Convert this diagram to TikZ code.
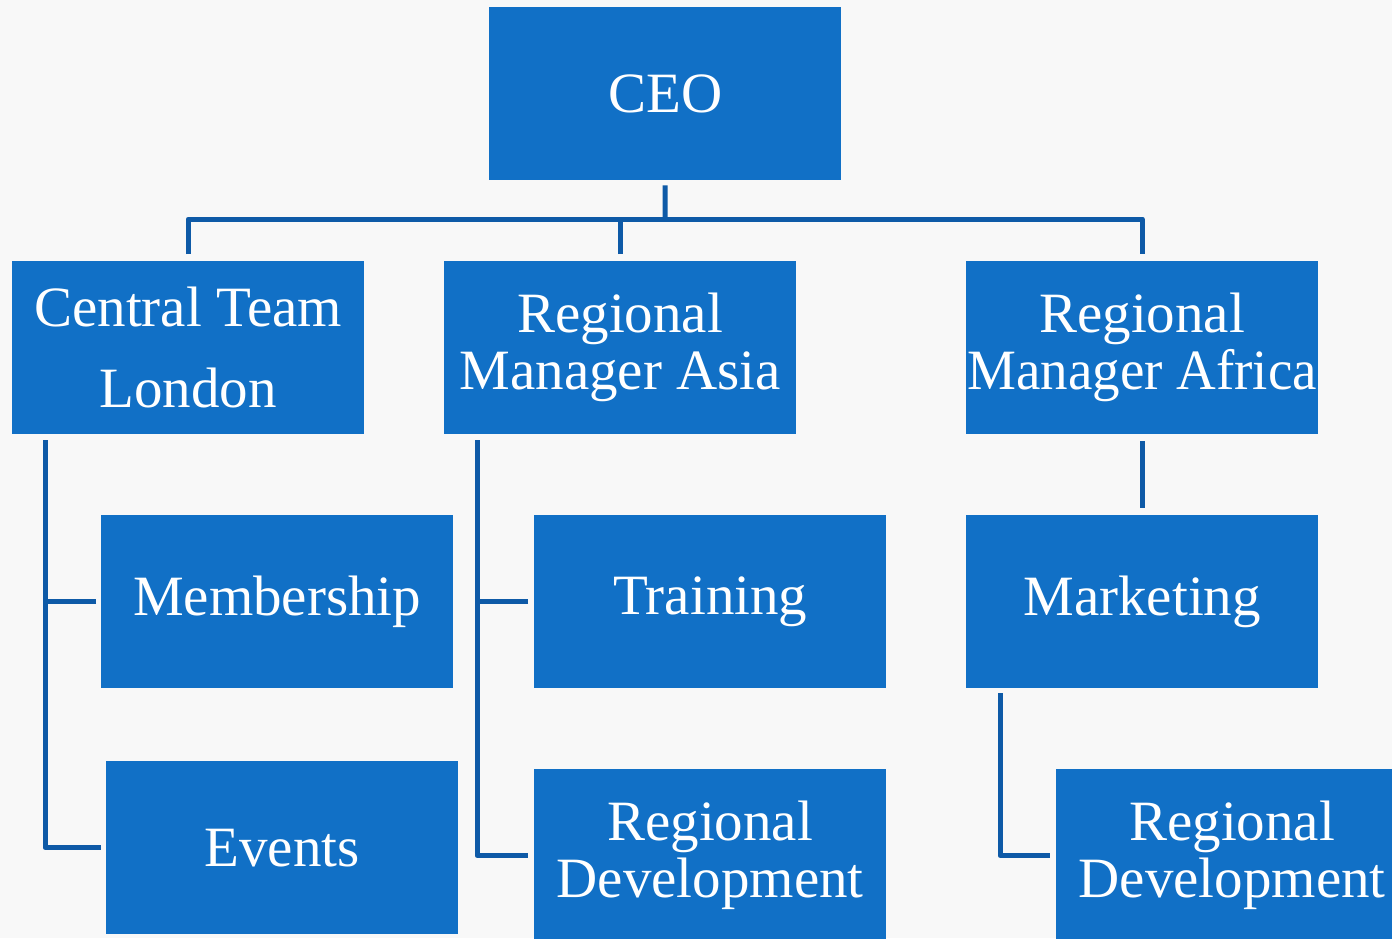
\documentclass[tikz,border=0pt]{standalone}
\usepackage{fontspec}
\setmainfont{Liberation Serif}
\definecolor{boxblue}{HTML}{1170C6}
\definecolor{lineblue}{HTML}{0E5AA7}
\definecolor{bg}{HTML}{F8F8F8}
\tikzset{
  orgbox/.style={fill=boxblue, draw=none, text=white, anchor=north west,
    minimum width=352pt, minimum height=173pt, inner sep=0pt, align=center,
    font=\fontsize{57}{57}\selectfont},
  conn/.style={draw=lineblue, line width=5pt, line join=round}
}
\begin{document}
\begin{tikzpicture}[x=1pt, y=-1pt]
\clip (0,0) rectangle (1392,938);
\fill[bg] (0,0) rectangle (1392,938);
% boxes
\node[orgbox] (ceo) at (489,7) {CEO};
\node[orgbox, font=\fontsize{57}{81}\selectfont] (ctl) at (12,261) {Central Team\\London};
\node[orgbox] (rma) at (444,261) {Regional\\Manager Asia};
\node[orgbox] (rmf) at (966,261) {Regional\\\scalebox{0.965}[1]{Manager Africa}};
\node[orgbox] (mem) at (101,515) {Membership};
\node[orgbox] (ev) at (106,761) {Events};
\node[orgbox] (tr) at (534,515) {Training};
\node[orgbox] (rd1) at (534,769) {Regional\\Development};
\node[orgbox] (mk) at (966,515) {Marketing};
\node[orgbox] (rd2) at (1056,769) {Regional\\Development};
% connectors
\coordinate (bus) at (665,219);
\coordinate (lc) at (45,440);
\coordinate (la) at (477,440);
\coordinate (lf) at (1000,693);
\draw[conn] ([yshift=-5pt]ceo.south) -- (bus);
\draw[conn] ([yshift=7pt]ctl.north) |- (rmf.north |- bus) -- ([yshift=7pt]rmf.north);
\draw[conn] ([yshift=7pt]rma.north) -- (rma.north |- bus);
% central team
\draw[conn] (lc) |- ([xshift=-5pt]ev.west);
\draw[conn] ([xshift=-5pt]mem.west) -- (mem.west -| lc);
% asia
\draw[conn] (la) |- ([xshift=-6pt]rd1.west);
\draw[conn] ([xshift=-6pt]tr.west) -- (tr.west -| la);
% africa
\draw[conn] ([yshift=-7pt]rmf.south) -- ([yshift=7pt]mk.north);
\draw[conn] (lf) |- ([xshift=-6pt]rd2.west);
\end{tikzpicture}
\end{document}
